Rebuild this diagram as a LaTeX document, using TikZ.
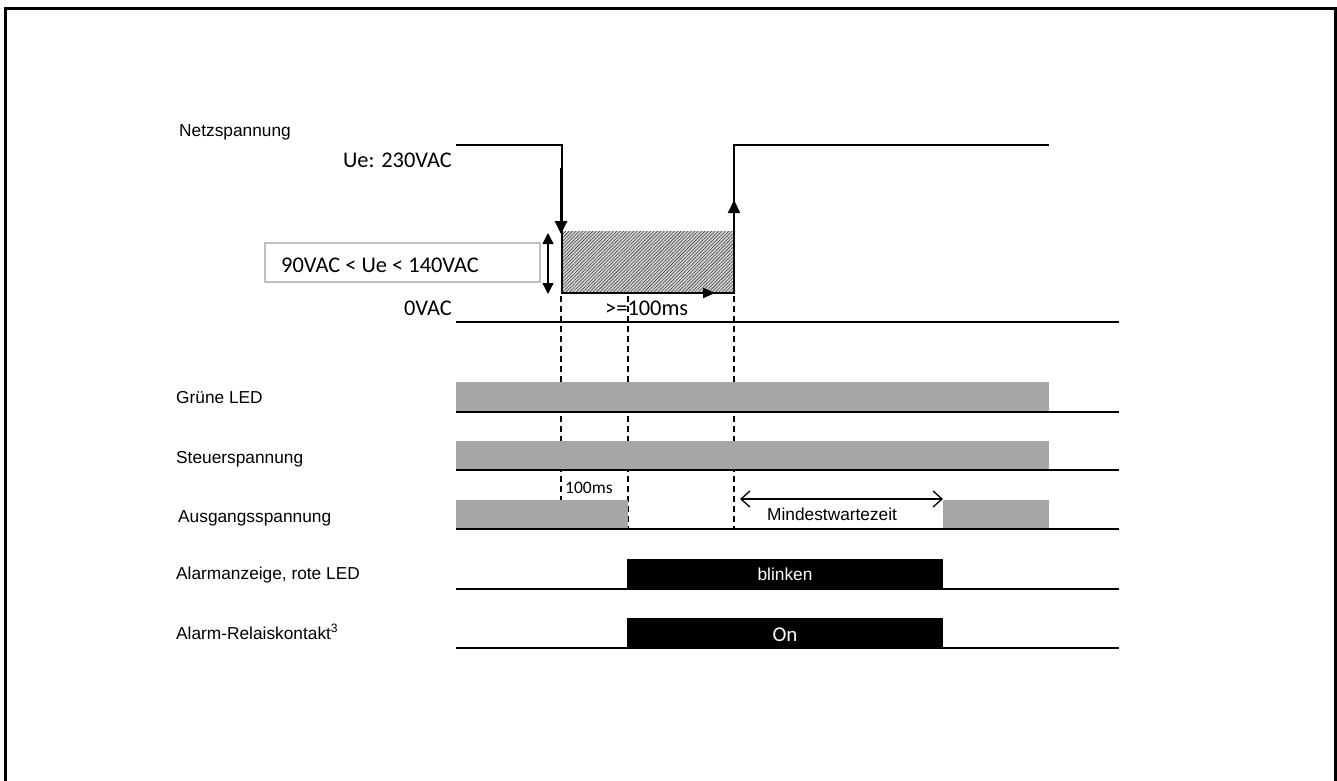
\documentclass[tikz,border=0pt]{standalone}
\usepackage{fontspec}
\setmainfont{Liberation Sans}
\newfontfamily\calib{Carlito}
\usetikzlibrary{arrows.meta,patterns.meta}
\definecolor{barg}{HTML}{A6A6A6}
\definecolor{boxg}{HTML}{BFBFBF}
\begin{document}
\begin{tikzpicture}[x=1pt,y=-1pt,
  lbl/.style={anchor=base west,inner sep=0pt,font=\fontsize{17.3}{20}\selectfont},
  cal/.style={inner sep=0pt,font=\calib\fontsize{22.4}{26}\selectfont},
  base/.style={line width=2.6pt},
  sig/.style={line width=2.2pt},
  bar/.style={fill=barg},
  blk/.style={fill=black},
  dsh/.style={line width=1.3pt,dash pattern=on 6pt off 4pt},
  tri/.style={-{Triangle[length=13pt,width=12pt]}},
]
\useasboundingbox (0,0) rectangle (1337,780);
% frame
\draw[line width=3pt] (5,790) -- (5,8) -- (1335,8) -- (1335,790);

% labels
\node[lbl] (lnetz) at (179,136) {Netzspannung};
\node[lbl] (lgruen) at (176,403) {Grüne LED};
\node[lbl] (lsteuer) at (176,463) {Steuerspannung};
\node[lbl] (lausg) at (178,522) {Ausgangsspannung};
\node[lbl] (lalarm) at (176,579) {Alarmanzeige, rote LED};
\node[lbl] (lrelais) at (176,639) {Alarm-Relaiskontakt\textsuperscript{3}};

% Netzspannung signal
\fill[gray!35] (562,231) rectangle (734,293);
\fill[pattern={Lines[angle=45,distance=2.4pt,line width=0.55pt]},pattern color=black!75] (562,231) rectangle (734,293);
\draw[sig] (456,145) -- (562,145) -- (562,293) -- (734,293) -- (734,145) -- (1049,145);
\draw[base] (456,322) -- (1119,322);

\node[cal,anchor=base east] (ue) at (452,167) {Ue: 230VAC};
\node[cal,anchor=base east] (null) at (452,315) {0VAC};
\draw[draw=boxg,line width=1.2pt] (265,243) rectangle (540,282);
\node[cal,anchor=base west] (range) at (281,272) {90VAC < Ue < 140VAC};

% arrows
\draw[line width=2.6pt,tri] (561,168) -- (561,234);
\draw[line width=2pt,tri] (734,293) -- (734,200);
\draw[line width=2pt,-{Triangle[length=12pt,width=10pt]}] (562,293) -- (715,293);
\draw[line width=1.3pt,{Triangle[length=11pt,width=11pt]}-{Triangle[length=11pt,width=11pt]}] (548,233) -- (548,294);

% dashed markers
\draw[dsh] (561,296) -- (561,528);
\draw[dsh] (628,296) -- (628,528);
\draw[dsh] (734,296) -- (734,528);
\node[cal,anchor=base west] (tdelay) at (605,315) {>=100ms};

% Grüne LED
\fill[bar] (456,382) rectangle (1049,412);
\draw[base] (456,412) -- (1119,412);
% Steuerspannung
\fill[bar] (456,441) rectangle (1049,470);
\draw[base] (456,470) -- (1119,470);
% Ausgangsspannung
\fill[bar] (456,500) rectangle (628,529);
\fill[bar] (943,500) rectangle (1049,529);
\draw[base] (456,529) -- (1119,529);
\node[inner sep=0pt,anchor=base west,font=\calib\fontsize{17.5}{20}\selectfont] (t100) at (565,493) {100ms};
\draw[line width=1.3pt,{Straight Barb[length=9pt,width=16pt]}-{Straight Barb[length=9pt,width=16pt]}] (740,499) -- (943,499);
\node[lbl] (mwz) at (767,520) {Mindestwartezeit};
% Alarmanzeige
\fill[blk] (627,559) rectangle (943,589);
\draw[base] (456,589) -- (1119,589);
\node[inner sep=0pt,anchor=base,font=\fontsize{17.3}{20}\selectfont,text=white] (blink) at (785,580) {blinken};
% Relais
\fill[blk] (627,618) rectangle (943,648);
\draw[base] (456,648) -- (1119,648);
\node[inner sep=0pt,anchor=base,font=\calib\fontsize{21}{24}\selectfont,text=white] (on) at (785,641) {On};
\end{tikzpicture}
\end{document}
